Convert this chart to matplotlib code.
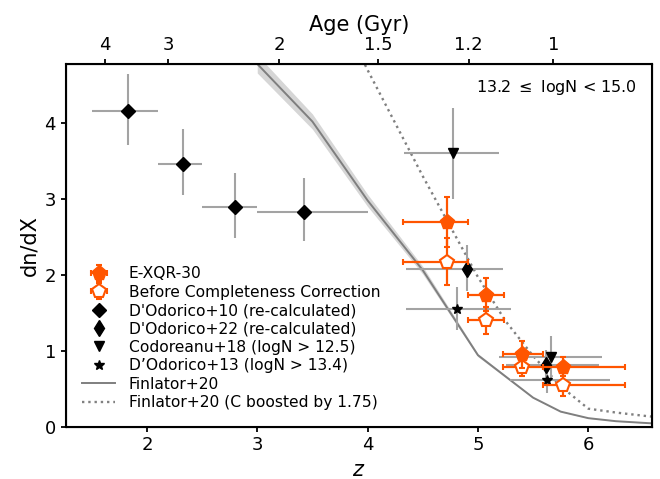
import numpy as np
import matplotlib
matplotlib.use('Agg')
import matplotlib.pyplot as plt

# E-XQR-30 (this work)
exqr_z = [4.72, 5.07, 5.40, 5.77]
exqr_zlo = [4.32, 4.91, 5.23, 5.59]
exqr_zhi = [4.91, 5.24, 5.59, 6.33]
exqr_dndx = [2.69, 1.74, 0.95, 0.79]
exqr_err = [0.33, 0.22, 0.18, 0.13]
# before completeness correction
raw_dndx = [2.17, 1.40, 0.79, 0.55]
raw_err = [0.31, 0.18, 0.12, 0.15]

# D'Odorico+10 (re-calculated)
d10_z = [1.83, 2.33, 2.80, 3.42]
d10_zlo = [1.50, 2.10, 2.50, 3.00]
d10_zhi = [2.10, 2.50, 3.00, 4.00]
d10_dndx = [4.16, 3.46, 2.90, 2.83]
d10_elo = [0.45, 0.41, 0.41, 0.38]
d10_ehi = [0.49, 0.46, 0.44, 0.44]

# D'Odorico+22 (re-calculated)
d22_z = [4.90, 5.62]
d22_zlo = [4.35, 5.25]
d22_zhi = [5.23, 6.10]
d22_dndx = [2.07, 0.81]
d22_elo = [0.29, 0.20]
d22_ehi = [0.32, 0.20]

# Codoreanu+18
c18_z = [4.77, 5.66]
c18_zlo = [4.33, 5.19]
c18_zhi = [5.19, 6.12]
c18_dndx = [3.61, 0.91]
c18_elo = [0.61, 0.29]
c18_ehi = [0.59, 0.28]

# D'Odorico+13
d13_z = [4.81, 5.63]
d13_zlo = [4.35, 5.29]
d13_zhi = [5.30, 6.20]
d13_dndx = [1.55, 0.61]
d13_elo = [0.28, 0.17]
d13_ehi = [0.29, 0.20]

# Finlator+20 models
fin_z = [3.0, 3.5, 4.0, 4.5, 5.0, 5.25, 5.5, 5.75, 6.0, 6.25, 6.5, 6.6]
fin_dndx = [4.78, 4.02, 2.98, 2.06, 0.94, 0.66, 0.38, 0.196, 0.11, 0.07, 0.048, 0.04]
fin_lo = [4.66, 3.92, 2.90, 2.01, 0.92, 0.645, 0.372, 0.192, 0.107, 0.068, 0.046, 0.038]
fin_hi = [4.90, 4.12, 3.06, 2.11, 0.96, 0.675, 0.388, 0.200, 0.113, 0.072, 0.050, 0.042]
boost_z = [3.9, 4.0, 4.5, 5.0, 5.25, 5.5, 5.75, 6.0, 6.25, 6.5, 6.6]
boost_dndx = [4.99, 4.70, 3.30, 1.97, 1.39, 0.93, 0.53, 0.235, 0.184, 0.142, 0.127]

age_ticks = [4, 3, 2, 1.5, 1.2, 1]
age_labels = ['4', '3', '2', '1.5', '1.2', '1']


def z_at_age(t, H0=67.7, Om=0.31):
    # flat LCDM, t in Gyr
    OL = 1 - Om
    th = 977.8 / H0
    a15 = np.sinh(np.asarray(t) * 1.5 * np.sqrt(OL) / th) / np.sqrt(OL / Om)
    return a15 ** (-2 / 3) - 1


def xerr(z, lo, hi):
    z = np.array(z)
    return [z - np.array(lo), np.array(hi) - z]


orange = '#ff5500'
grey = '#a3a3a3'

fig = plt.figure(figsize=(6.6, 4.79), dpi=100)
ax = fig.add_axes([0.0995, 0.1096, 0.888, 0.757])

# models
ax.fill_between(fin_z, fin_lo, fin_hi, color='#d6d6d6', lw=0, zorder=1)
l1, = ax.plot(fin_z, fin_dndx, color='#7f7f7f', lw=1.4, zorder=1.5, label='Finlator+20')
l2, = ax.plot(boost_z, boost_dndx, color='#808080', lw=1.7, ls=':', zorder=1.5,
              label='Finlator+20 (C boosted by 1.75)')

# literature
lit = [
    (d10_z, d10_zlo, d10_zhi, d10_dndx, d10_elo, d10_ehi, 'D', 7, "D'Odorico+10 (re-calculated)"),
    (d22_z, d22_zlo, d22_zhi, d22_dndx, d22_elo, d22_ehi, 'd', 8, "D'Odorico+22 (re-calculated)"),
    (c18_z, c18_zlo, c18_zhi, c18_dndx, c18_elo, c18_ehi, 'v', 7, 'Codoreanu+18 (logN > 12.5)'),
    (d13_z, d13_zlo, d13_zhi, d13_dndx, d13_elo, d13_ehi, '*', 7.5, 'D\u2019Odorico+13 (logN > 13.4)'),
]
lit_handles = []
for z, lo, hi, y, elo, ehi, m, ms, lab in lit:
    ax.errorbar(z, y, xerr=xerr(z, lo, hi), yerr=[elo, ehi], fmt='none',
                ecolor=grey, elinewidth=1.5, zorder=2)
    h, = ax.plot(z, y, ls='none', marker=m, ms=ms, color='k', zorder=3, label=lab)
    lit_handles.append(h)

# this work
e1 = ax.errorbar(exqr_z, exqr_dndx, xerr=xerr(exqr_z, exqr_zlo, exqr_zhi), yerr=exqr_err,
                 fmt='p', ms=11, color=orange, ecolor=orange, elinewidth=1.6,
                 capsize=2.5, capthick=1.5, zorder=5, label='E-XQR-30')
e2 = ax.errorbar(exqr_z, raw_dndx, xerr=xerr(exqr_z, exqr_zlo, exqr_zhi), yerr=raw_err,
                 fmt='p', ms=10, mfc='white', mec=orange, mew=1.5, color=orange,
                 ecolor=orange, elinewidth=1.6, capsize=2.5, capthick=1.5, zorder=4,
                 label='Before Completeness Correction')

ax.set_xlim(1.264, 6.575)
ax.set_ylim(0, 4.78)
ax.set_xlabel('$z$', fontsize=15)
ax.set_ylabel('dn/dX', fontsize=15)
ax.tick_params(labelsize=13)
for s in ax.spines.values():
    s.set_linewidth(1.5)
ax.tick_params(width=1.3)

ax.text(0.974, 0.962, r'13.2 $\leq$ logN < 15.0', transform=ax.transAxes,
        ha='right', va='top', fontsize=11.5)

ax.legend(handles=[e1, e2] + lit_handles + [l1, l2], loc='lower left',
          frameon=False, fontsize=11.2, handlelength=2.15, handletextpad=0.85,
          labelspacing=0.22, borderaxespad=0.65)

# top axis: age of the universe
ax2 = ax.twiny()
ax2.set_xlim(ax.get_xlim())
ax2.set_xticks(z_at_age(age_ticks))
ax2.set_xticklabels(age_labels)
ax2.tick_params(labelsize=13, width=1.3)
ax2.set_xlabel('Age (Gyr)', fontsize=15)

fig.savefig('out.png', dpi=100)
